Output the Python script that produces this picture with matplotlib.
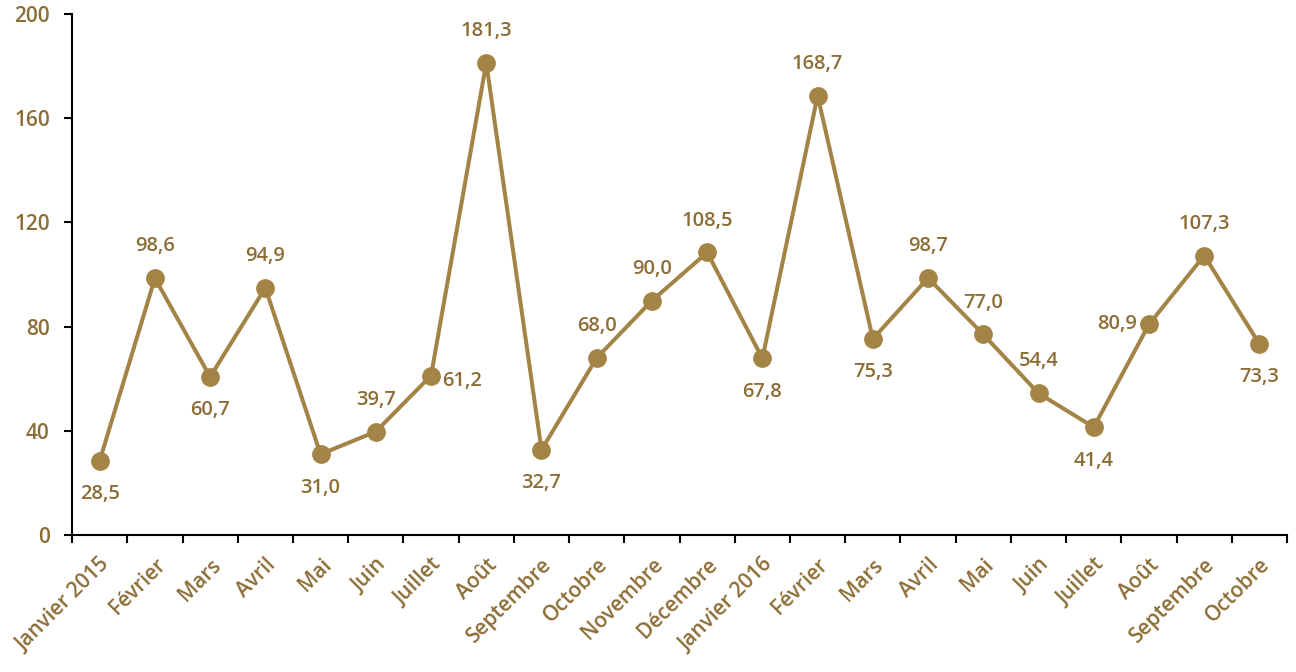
import matplotlib.pyplot as plt
import numpy as np

mois = ["Janvier 2015", "Février", "Mars", "Avril", "Mai", "Juin", "Juillet", "Août",
        "Septembre", "Octobre", "Novembre", "Décembre", "Janvier 2016", "Février", "Mars",
        "Avril", "Mai", "Juin", "Juillet", "Août", "Septembre", "Octobre"]
valeurs = [28.5, 98.6, 60.7, 94.9, 31.0, 39.7, 61.2, 181.3, 32.7, 68.0, 90.0, 108.5,
           67.8, 168.7, 75.3, 98.7, 77.0, 54.4, 41.4, 80.9, 107.3, 73.3]
# where each value label sits relative to its point
places = ["b", "a", "b", "a", "b", "a", "r", "a", "b", "a", "a", "a",
          "b", "a", "b", "a", "a", "a", "b", "l", "a", "b"]

line_col = "#A38446"
text_col = "#8C6D35"

plt.rcParams['font.family'] = ['Open Sans', 'DejaVu Sans']

fig = plt.figure(figsize=(12.96, 6.72), dpi=100)
ax = fig.add_axes([0.0556, 0.2039, 0.9375, 0.775])

x = np.arange(len(valeurs))
ax.plot(x, valeurs, color=line_col, lw=2.9, marker="o", markersize=12.5, zorder=3)

offsets = {"a": (0, 23), "b": (0, -24), "r": (22, -4), "l": (-23, 0)}
for xi, v, p in zip(x, valeurs, places):
    dx, dy = offsets[p]
    ax.annotate(f"{v:.1f}".replace(".", ","), (xi, v), xytext=(dx, dy),
                textcoords="offset points", ha="center", va="center",
                fontsize=14.5, fontweight="semibold", color=text_col)

ax.set_xlim(-0.5, len(valeurs) - 0.5)
ax.set_ylim(0, 200)
ax.set_yticks([0, 40, 80, 120, 160, 200])
ax.set_xticks(x)
ax.set_xticklabels(mois, rotation=45, ha="right", rotation_mode="anchor")
ax.set_xticks(np.arange(len(valeurs) + 1) - 0.5, minor=True)
ax.tick_params(axis="x", which="major", length=0, pad=14, labelsize=15, labelcolor=text_col)
ax.tick_params(axis="x", which="minor", length=6, width=1.5, direction="out")
ax.tick_params(axis="y", length=6, width=1.5, labelsize=15, labelcolor=text_col, pad=10)
for lab in ax.get_xticklabels() + ax.get_yticklabels():
    lab.set_fontweight("semibold")

ax.spines["top"].set_visible(False)
ax.spines["right"].set_visible(False)
ax.spines["left"].set_linewidth(1.5)
ax.spines["bottom"].set_linewidth(1.5)

fig.savefig("out.png", dpi=100)
